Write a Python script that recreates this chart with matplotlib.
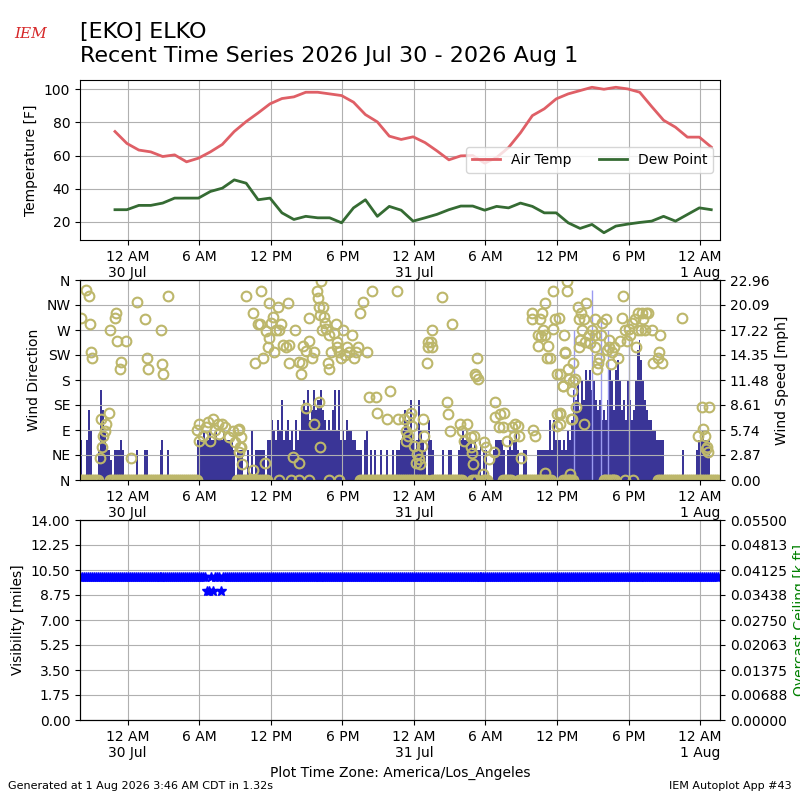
import datetime as dt
import numpy as np
import matplotlib
matplotlib.use("Agg")
import matplotlib.pyplot as plt
import matplotlib.dates as mdates
from matplotlib.ticker import FuncFormatter

START = dt.datetime(2026, 7, 29, 20, 0)   # local (America/Los_Angeles)
BIN_MIN = 10                              # wind / visibility sampling used here

# hourly METAR temperatures, first ob at 22:56 on Jul 29
tmpf = [74.5, 67.3, 63.3, 62.2, 59.4, 60.4, 56.2, 58.4, 62.2, 66.7,
        74.5, 80.5, 85.7, 91.2, 94.4, 95.4, 98.2, 98.2, 97.2, 96.2,
        92.2, 84.7, 80.3, 71.7, 69.7, 71.3, 67.8, 62.8, 57.4, 59.8,
        60.0, 55.4, 58.8, 64.8, 73.7, 84.1, 88.2, 94.2, 97.2, 99.2,
        101.2, 100.0, 101.2, 100.2, 98.2, 89.6, 81.3, 77.1, 71.1, 71.1,
        65.1]
dwpf = [27.3, 27.3, 29.9, 29.9, 31.3, 34.3, 34.3, 34.3, 38.3, 40.3,
        45.3, 43.3, 33.3, 34.3, 25.4, 21.4, 23.3, 22.4, 22.4, 19.4,
        28.4, 33.3, 23.3, 29.3, 27.0, 20.4, 22.4, 24.5, 27.3, 29.5,
        29.5, 27.0, 29.3, 28.4, 31.3, 29.3, 25.4, 25.4, 19.4, 16.0,
        18.4, 13.4, 17.4, 18.6, 19.6, 20.4, 23.3, 20.4, 24.4, 28.4,
        27.3]

# wind speed [kt], one value per 10 minutes from START
wind_kt = [
    4, 0, 0, 4, 7, 5, 0, 0, 0, 3,
    9, 7, 5, 3, 3, 2, 0, 3, 3, 3,
    4, 3, 0, 0, 0, 0, 0, 0, 3, 0,
    0, 0, 3, 3, 0, 0, 0, 0, 0, 0,
    3, 4, 0, 0, 3, 0, 0, 0, 0, 0,
    0, 0, 0, 0, 0, 0, 0, 0, 0, 4,
    4, 4, 5, 4, 4, 5, 4, 4, 5, 4,
    4, 4, 5, 4, 4, 4, 4, 3, 0, 3,
    3, 3, 0, 0, 3, 0, 5, 0, 3, 3,
    3, 3, 3, 0, 4, 4, 6, 5, 4, 6,
    5, 8, 4, 5, 6, 4, 5, 3, 6, 4,
    5, 7, 8, 7, 9, 6, 7, 9, 7, 8,
    8, 9, 7, 6, 5, 6, 5, 7, 9, 5,
    9, 4, 5, 4, 6, 5, 5, 4, 4, 3,
    3, 3, 0, 4, 5, 0, 3, 0, 3, 0,
    0, 3, 0, 0, 3, 0, 0, 3, 0, 3,
    3, 4, 5, 7, 6, 5, 8, 4, 3, 4,
    8, 5, 4, 3, 0, 6, 4, 3, 0, 0,
    0, 0, 3, 0, 0, 3, 3, 0, 0, 0,
    3, 4, 5, 4, 5, 4, 4, 3, 4, 3,
    3, 4, 0, 3, 3, 0, 0, 0, 3, 4,
    4, 4, 4, 3, 0, 3, 4, 3, 4, 5,
    3, 0, 0, 3, 3, 0, 0, 0, 0, 0,
    3, 3, 3, 3, 3, 3, 6, 3, 6, 4,
    4, 4, 3, 4, 3, 5, 4, 6, 9, 8,
    10, 7, 10, 8, 11, 10, 11, 9, 10, 8,
    7, 8, 6, 7, 6, 8, 11, 10, 7, 11,
    12, 10, 7, 8, 6, 10, 8, 6, 7, 10,
    13, 14, 12, 10, 8, 7, 6, 6, 5, 5,
    4, 4, 4, 4, 0, 0, 0, 0, 0, 0,
    0, 0, 0, 3, 0, 0, 0, 0, 0, 0,
    3, 4, 4, 5, 4, 4, 4, 0, 0, 0,
    0, 0]

# single-minute peaks [hours after START, mph]
peak_obs = [(41.46, 17.2), (42.93, 21.8), (43.68, 18.2), (44.27, 17.2), (46.00, 17.2)]

# calm periods (direction reported as N / 0) [hours after START]
calm_periods = [(0.0, 1.6), (2.4, 9.9), (13.1, 15.7), (23.5, 29.0), (29.4, 32.1),
                (32.7, 33.3), (33.7, 34.3), (35.4, 36.2), (36.8, 39.6),
                (40.4, 41.4), (43.9, 44.9), (48.5, 53.6)]

# wind direction observations [hours after START, degrees]
dir_obs_jul29 = [
    (0.12, 291), (0.53, 342), (0.76, 331), (0.87, 281), (0.95, 231), (1.04, 220),
    (1.70, 39), (1.79, 110), (1.87, 59), (1.93, 80), (2.07, 89), (2.21, 101),
    (2.43, 120), (2.54, 270), (2.90, 291), (2.99, 301), (3.13, 250), (3.32, 200),
    (3.46, 212), (3.82, 250), (4.30, 39), (4.80, 320), (5.47, 290), (5.64, 220),
    (5.72, 200), (6.81, 270), (6.89, 209), (7.00, 190), (7.37, 331),
    (9.79, 90), (10.02, 100), (9.96, 71), (10.35, 80), (10.58, 95), (10.71, 104),
    (10.91, 71), (11.13, 110), (11.36, 90), (11.55, 100), (11.69, 83), (11.92, 101),
    (12.19, 95), (12.53, 77), (12.80, 89), (13.03, 68), (13.22, 90), (13.31, 50),
    (13.42, 60), (13.59, 29)]
dir_obs_jul30 = [
    (13.92, 331), (15.18, 340), (15.82, 319), (14.48, 300), (14.90, 280), (15.09, 281),
    (16.15, 294), (16.57, 311), (17.46, 319), (15.60, 268), (15.87, 255), (16.01, 282),
    (16.85, 280), (16.43, 270), (16.71, 270), (15.74, 240), (16.29, 231), (16.99, 243),
    (17.27, 240), (17.49, 243), (15.32, 219), (14.70, 211), (17.55, 211), (18.05, 270),
    (18.39, 213), (18.61, 211), (18.52, 190), (18.72, 241), (18.94, 232), (19.17, 250),
    (19.22, 291), (19.45, 220), (19.64, 231), (19.84, 341), (19.92, 327), (20.00, 312),
    (20.11, 297), (20.20, 359), (20.34, 311), (20.48, 293), (20.56, 282), (20.67, 271),
    (20.28, 270), (20.90, 261), (21.03, 231), (20.76, 211), (20.84, 200), (21.45, 281),
    (21.31, 264), (21.51, 249), (21.59, 240), (21.73, 231), (21.87, 220), (22.07, 270),
    (22.23, 225), (22.43, 240), (22.57, 231), (22.79, 261), (22.99, 220), (23.18, 231),
    (23.35, 240), (23.46, 300), (23.74, 320), (24.10, 231), (24.52, 340),
    (13.36, 92), (13.50, 77), (13.50, 59), (14.54, 18), (15.54, 30), (17.83, 41),
    (18.39, 30), (18.94, 129), (20.06, 140), (19.64, 100), (20.11, 60), (24.24, 149),
    (24.86, 149), (25.97, 160), (24.94, 120), (25.78, 110), (26.70, 110),
    (16.71, 0), (17.69, 0), (18.33, 0), (19.22, 0), (20.90, 0), (21.73, 0)]
dir_obs_jul31 = [
    (26.55, 341), (30.38, 330), (31.16, 280), (29.48, 270), (29.20, 249), (29.40, 249),
    (29.20, 240), (29.54, 240), (29.07, 211), (33.31, 220), (33.11, 190), (33.39, 181),
    (33.22, 188), (37.91, 300), (38.74, 300), (37.91, 289), (38.60, 289), (39.02, 319),
    (39.64, 340), (38.80, 270), (38.41, 261), (38.69, 259), (39.02, 261), (38.41, 241),
    (39.25, 241), (39.16, 220), (39.44, 220), (39.64, 271), (39.86, 289), (40.00, 190),
    (27.17, 110), (27.73, 120), (27.59, 113), (27.87, 98), (27.31, 89), (27.53, 80),
    (27.36, 70), (28.00, 62), (28.28, 47), (28.42, 38), (28.14, 30), (28.48, 29),
    (28.76, 110), (28.84, 80), (28.70, 62), (30.80, 140), (30.88, 119), (30.99, 89),
    (31.83, 100), (32.47, 100), (32.05, 89), (32.19, 71), (32.75, 77), (33.03, 80),
    (32.75, 59), (32.83, 48), (32.94, 29), (33.86, 68), (34.06, 60), (34.28, 38),
    (34.70, 50), (33.78, 11), (34.78, 140), (34.84, 113), (35.26, 119), (35.54, 120),
    (35.12, 95), (35.45, 95), (35.82, 70), (36.23, 95), (36.51, 101), (36.74, 98),
    (36.37, 80), (36.85, 80), (37.02, 40), (37.96, 90), (38.13, 80), (38.97, 12),
    (40.00, 119), (40.00, 98)]
dir_obs_jul31_pm = [
    (40.84, 359), (40.84, 341), (45.50, 331), (42.43, 319), (41.76, 311), (42.04, 301),
    (41.87, 289), (42.23, 289), (43.15, 289), (44.10, 289), (43.77, 282), (43.21, 261),
    (42.93, 270), (42.09, 270), (42.65, 261), (43.71, 261), (41.95, 252), (42.37, 249),
    (42.79, 246), (41.81, 240), (43.21, 240), (44.32, 252), (44.38, 240), (44.74, 240),
    (44.60, 231), (44.18, 234), (43.49, 220), (43.43, 211), (43.35, 200), (44.55, 209),
    (45.10, 220), (45.30, 250), (45.44, 291), (45.66, 270), (46.00, 271), (45.86, 250),
    (46.14, 261), (46.28, 282), (46.50, 289), (46.61, 240), (46.83, 300), (47.11, 300),
    (47.25, 289), (47.45, 300), (47.67, 300), (47.06, 270), (47.34, 270), (46.83, 270),
    (47.95, 270), (48.65, 261), (48.09, 211), (48.45, 220), (48.84, 211), (48.51, 231),
    (50.52, 291), (40.14, 291), (40.56, 261), (40.70, 231), (40.92, 200), (41.31, 211),
    (41.48, 181), (40.47, 170), (40.23, 190), (40.50, 170), (40.23, 120), (41.04, 182),
    (41.26, 161), (41.34, 178), (41.17, 110), (40.64, 229),
    (41.59, 131), (41.26, 110), (42.23, 100), (40.28, 119), (40.28, 100), (52.13, 131),
    (52.75, 131), (51.80, 80), (52.27, 92), (52.41, 80), (52.55, 60), (52.64, 50),
    (52.47, 56), (41.12, 11), (43.90, 0), (44.66, 0), (45.66, 0), (46.33, 0), (40.98, 0)]

# visibility [miles], one value per 10 minutes from START
vis = [
    10, 10, 10, 10, 10, 10, 10, 10, 10, 10, 10, 10, 10, 10, 10, 10, 10, 10, 10, 10,
    10, 10, 10, 10, 10, 10, 10, 10, 10, 10, 10, 10, 10, 10, 10, 10, 10, 10, 10, 10,
    10, 10, 10, 10, 10, 10, 10, 10, 10, 10, 10, 10, 10, 10, 10, 10, 10, 10, 10, 10,
    10, 10, 10, 10, 9, 9, 10, 9, 10, 10, 10, 9, 10, 10, 10, 10, 10, 10, 10, 10,
    10, 10, 10, 10, 10, 10, 10, 10, 10, 10, 10, 10, 10, 10, 10, 10, 10, 10, 10, 10,
    10, 10, 10, 10, 10, 10, 10, 10, 10, 10, 10, 10, 10, 10, 10, 10, 10, 10, 10, 10,
    10, 10, 10, 10, 10, 10, 10, 10, 10, 10, 10, 10, 10, 10, 10, 10, 10, 10, 10, 10,
    10, 10, 10, 10, 10, 10, 10, 10, 10, 10, 10, 10, 10, 10, 10, 10, 10, 10, 10, 10,
    10, 10, 10, 10, 10, 10, 10, 10, 10, 10, 10, 10, 10, 10, 10, 10, 10, 10, 10, 10,
    10, 10, 10, 10, 10, 10, 10, 10, 10, 10, 10, 10, 10, 10, 10, 10, 10, 10, 10, 10,
    10, 10, 10, 10, 10, 10, 10, 10, 10, 10, 10, 10, 10, 10, 10, 10, 10, 10, 10, 10,
    10, 10, 10, 10, 10, 10, 10, 10, 10, 10, 10, 10, 10, 10, 10, 10, 10, 10, 10, 10,
    10, 10, 10, 10, 10, 10, 10, 10, 10, 10, 10, 10, 10, 10, 10, 10, 10, 10, 10, 10,
    10, 10, 10, 10, 10, 10, 10, 10, 10, 10, 10, 10, 10, 10, 10, 10, 10, 10, 10, 10,
    10, 10, 10, 10, 10, 10, 10, 10, 10, 10, 10, 10, 10, 10, 10, 10, 10, 10, 10, 10,
    10, 10, 10, 10, 10, 10, 10, 10, 10, 10, 10, 10, 10, 10, 10, 10, 10, 10, 10, 10,
    10, 10]

dir_labels = ['N', 'NE', 'E', 'SE', 'S', 'SW', 'W', 'NW', 'N']


def hours(h):
    return START + dt.timedelta(hours=h)


times = [START + dt.timedelta(minutes=BIN_MIN * i) for i in range(len(wind_kt))]
t_temp = [START + dt.timedelta(hours=2, minutes=56) + dt.timedelta(hours=i)
          for i in range(len(tmpf))]
speed = np.array(wind_kt) * 1.15078

all_dir = dir_obs_jul29 + dir_obs_jul30 + dir_obs_jul31 + dir_obs_jul31_pm
calm_t = [t for t in times
          if any(hours(a) <= t <= hours(b) for a, b in calm_periods)]


def timefmt(x, pos):
    d = mdates.num2date(x)
    h = d.hour
    s = f"{h % 12 or 12} {'AM' if h < 12 else 'PM'}"
    if h == 0:
        s += f"\n{d.day} {d:%b}"
    return s


fig = plt.figure(figsize=(8, 8), dpi=100)

# temperature
ax1 = fig.add_axes([0.1, 0.7, 0.8, 0.2])
ax1.plot(t_temp, tmpf, color='#df5f66', lw=2, label='Air Temp')
ax1.plot(t_temp, dwpf, color='#356b33', lw=2, label='Dew Point')
ax1.set_ylabel('Temperature [F]')
ax1.grid(True)
ax1.legend(loc='center right', ncol=2)
ax1.xaxis.set_major_locator(mdates.HourLocator(byhour=[0, 6, 12, 18]))
ax1.xaxis.set_major_formatter(FuncFormatter(timefmt))
ax1.set_xlim(times[0], times[-1] + dt.timedelta(minutes=BIN_MIN))

# wind
ax2 = fig.add_axes([0.1, 0.4, 0.8, 0.25], sharex=ax1)
ax2b = ax2.twinx()
ax2b.bar(times, speed, width=BIN_MIN / 1440., align='edge', color='#3a3597', lw=0)
ax2b.vlines([hours(h) for h, v in peak_obs], 0, [v for h, v in peak_obs],
            color='#9a9af0', lw=1)
ax2b.set_ylim(0, 22.96)
ax2b.set_yticks(np.linspace(0, 22.96, 9))
ax2b.yaxis.set_major_formatter(FuncFormatter(lambda v, p: f"{v:.2f}"))
ax2b.set_ylabel('Wind Speed [mph]')
ax2.set_zorder(ax2b.get_zorder() + 1)
ax2.patch.set_visible(False)
ax2.plot(calm_t, [0] * len(calm_t), 'o', mfc='none', mec='darkkhaki', ms=7, mew=1.5)
ax2.plot([hours(h) for h, d in all_dir], [d for h, d in all_dir], 'o',
         mfc='none', mec='darkkhaki', ms=7, mew=1.5)
ax2.set_ylim(0, 360)
ax2.set_yticks(range(0, 361, 45))
ax2.set_yticklabels(dir_labels)
ax2.set_ylabel('Wind Direction')
ax2.grid(True)

# visibility
ax3 = fig.add_axes([0.1, 0.1, 0.8, 0.25], sharex=ax1)
ax3.plot(times, vis, '*', color='b', ms=7, ls='none')
ax3.set_ylim(0, 14)
ax3.set_yticks(np.linspace(0, 14, 9))
ax3.yaxis.set_major_formatter(FuncFormatter(lambda v, p: f"{v:.2f}"))
ax3.set_ylabel('Visibility [miles]')
ax3.set_xlabel('Plot Time Zone: America/Los_Angeles')
ax3.grid(True)
ax3b = ax3.twinx()
ax3b.set_ylim(0, 0.055)
ax3b.set_yticks(np.linspace(0, 0.055, 9))
ax3b.yaxis.set_major_formatter(FuncFormatter(lambda v, p: f"{v:.5f}"))
ax3b.set_ylabel('Overcast Ceiling [k ft]', color='g')

fig.text(0.1, 0.972, "[EKO] ELKO\nRecent Time Series 2026 Jul 30 - 2026 Aug 1",
         fontsize=16, va='top')
fig.text(0.018, 0.953, 'IEM', color='#d62728', fontsize=11, style='italic',
         family='serif')
fig.text(0.01, 0.014, 'Generated at 1 Aug 2026 3:46 AM CDT in 1.32s', fontsize=8)
fig.text(0.99, 0.014, 'IEM Autoplot App #43', fontsize=8, ha='right')

fig.savefig('out.png', dpi=100)
